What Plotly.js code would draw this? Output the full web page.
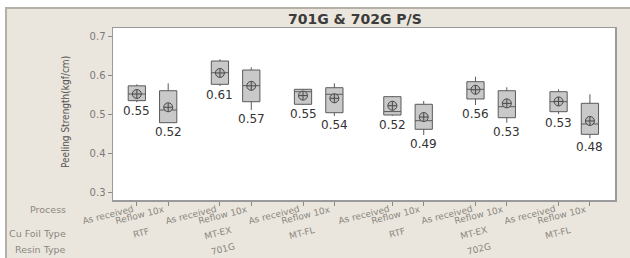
<!DOCTYPE html>
<html>
<head>
<meta charset="utf-8">
<script src="https://cdn.plot.ly/plotly-3.0.1.min.js"></script>
<style>
  html, body { margin: 0; padding: 0; background: #ffffff; width: 630px; height: 258px; overflow: hidden; }
  #frame { position: absolute; left: 5px; top: 7px; width: 623px; height: 249px;
           border-left: 2px solid #b4b0a8; border-top: 2px solid #b4b0a8; background: #ebe6dd; }
  #chart { width: 623px; height: 249px; }
</style>
</head>
<body>
<div id="frame"><div id="chart"></div></div>
<script>
// ---- data ----
const resinTypes = ['701G', '702G'];
const foilTypes = ['RTF', 'MT-EX', 'MT-FL'];
const processes = ['As received', 'Reflow 10x'];
const rowNames = ['Process', 'Cu Foil Type', 'Resin Type'];

// order: resin -> foil -> process
const lowerWhisker = [0.532, 0.4795, 0.5736, 0.5121, 0.525, 0.4967, 0.497, 0.4479, 0.5249, 0.4795, 0.5018, 0.4395];
const q1Values     = [0.536, 0.4795, 0.5779, 0.5333, 0.5267, 0.5051, 0.4992, 0.4626, 0.5403, 0.4923, 0.5077, 0.4497];
const medianValues = [0.553, 0.512, 0.6077, 0.5744, 0.559, 0.5523, 0.508, 0.4846, 0.5651, 0.5205, 0.5333, 0.4762];
const q3Values     = [0.574, 0.5615, 0.6377, 0.6146, 0.5651, 0.5692, 0.5462, 0.5267, 0.5846, 0.5615, 0.559, 0.5292];
const upperWhisker = [0.578, 0.5805, 0.6421, 0.6215, 0.566, 0.5805, 0.548, 0.5351, 0.5974, 0.5703, 0.5651, 0.5523];
const meanValues   = [0.553, 0.519, 0.607, 0.574, 0.549, 0.542, 0.523, 0.494, 0.564, 0.529, 0.534, 0.484];

const yTicks = [0.3, 0.4, 0.5, 0.6, 0.7];

// ---- layout helpers ----
const procStep = 1, foilStep = 2.65, resinStep = 3 * 2.65 + 0.2;
const xs = [], procOf = [];
resinTypes.forEach((r, ri) => foilTypes.forEach((f, fi) => processes.forEach((p, pi) => {
  xs.push(ri * resinStep + fi * foilStep + pi * procStep);
  procOf.push(p);
})));

const labelFont = { family: 'DejaVu Sans', size: 9, color: '#8a8780' };
const annotations = [];

// mean labels
xs.forEach((x, i) => annotations.push({
  x: x, y: lowerWhisker[i], xref: 'x', yref: 'y', yanchor: 'top', xanchor: 'center',
  text: meanValues[i].toFixed(2), showarrow: false, yshift: 0,
  font: { family: 'DejaVu Sans', size: 12, color: '#333333' }
}));
// process tick labels
xs.forEach((x, i) => annotations.push({
  x: x, y: -0.09, xref: 'x', yref: 'paper', xanchor: 'right', yanchor: 'middle',
  text: procOf[i], showarrow: false, textangle: -14, font: labelFont
}));
// foil labels
resinTypes.forEach((r, ri) => foilTypes.forEach((f, fi) => {
  const c = ri * resinStep + fi * foilStep + 0.5 * procStep;
  annotations.push({ x: c, y: -0.192, xref: 'x', yref: 'paper', xanchor: 'right', yanchor: 'middle',
    text: f, showarrow: false, textangle: -14, font: labelFont });
}));
// resin labels
resinTypes.forEach((r, ri) => {
  const c = ri * resinStep + (foilTypes.length - 1) * foilStep / 2 + 0.5 * procStep;
  annotations.push({ x: c, y: -0.287, xref: 'x', yref: 'paper', xanchor: 'right', yanchor: 'middle', xshift: 3,
    text: r, showarrow: false, textangle: -14, font: labelFont });
});
// row names
const rowY = [-0.058, -0.192, -0.29];
rowNames.forEach((n, i) => annotations.push({
  x: -0.0896, y: rowY[i], xref: 'paper', yref: 'paper', xanchor: 'right', yanchor: 'middle',
  text: n, showarrow: false, font: { family: 'DejaVu Sans', size: 9.5, color: '#8a8780' }
}));
// y title
annotations.push({
  x: -0.0956, y: 0.5116, xref: 'paper', yref: 'paper', xanchor: 'center', yanchor: 'middle',
  text: 'Peeling Strength(kgf/cm)', textangle: -90, showarrow: false,
  font: { family: 'DejaVu Sans Condensed', size: 10, color: '#555555' }
});
// title
annotations.push({
  x: 0.482, y: 1.052, xref: 'paper', yref: 'paper', xanchor: 'center', yanchor: 'middle',
  text: '<b>701G &amp; 702G P/S</b>', showarrow: false,
  font: { family: 'DejaVu Sans', size: 14, color: '#3c3c3c' }
});

const boxTrace = {
  type: 'box', x: xs, q1: q1Values, median: medianValues, q3: q3Values,
  lowerfence: lowerWhisker, upperfence: upperWhisker,
  width: 0.55, whiskerwidth: 0, boxpoints: false,
  fillcolor: '#c9c9c9', line: { color: '#5a5a5a', width: 1 },
  hoverinfo: 'skip', showlegend: false
};
const meanTrace = {
  type: 'scatter', mode: 'markers', x: xs, y: meanValues,
  marker: { symbol: 'circle-cross', size: 9, color: '#b8b8b8', line: { color: '#4a4a4a', width: 1 } },
  hoverinfo: 'skip', showlegend: false
};

const layout = {
  width: 623, height: 249,
  margin: { l: 106, r: 15, t: 19, b: 58 },
  paper_bgcolor: '#ebe6dd', plot_bgcolor: '#ffffff',
  showlegend: false,
  xaxis: {
    range: [-0.76, 15.25], tickvals: xs, ticktext: xs.map(() => ''),
    ticks: 'outside', ticklen: 4, tickcolor: '#8a8a8a', showgrid: false, zeroline: false,
    showline: true, mirror: true, linecolor: '#9a9a9a', linewidth: 1.5, showticklabels: false
  },
  yaxis: {
    range: [0.2813, 0.7223], tickvals: yTicks, ticktext: yTicks.map(v => v.toFixed(1)),
    ticks: 'outside', ticklen: 4, tickcolor: '#8a8a8a', showgrid: false, zeroline: false,
    showline: true, mirror: true, linecolor: '#9a9a9a', linewidth: 1.5,
    tickfont: { family: 'DejaVu Sans', size: 10, color: '#7a7a7a' }
  },
  annotations: annotations
};

Plotly.newPlot('chart', [boxTrace, meanTrace], layout, { displayModeBar: false, staticPlot: true });
</script>
</body>
</html>
